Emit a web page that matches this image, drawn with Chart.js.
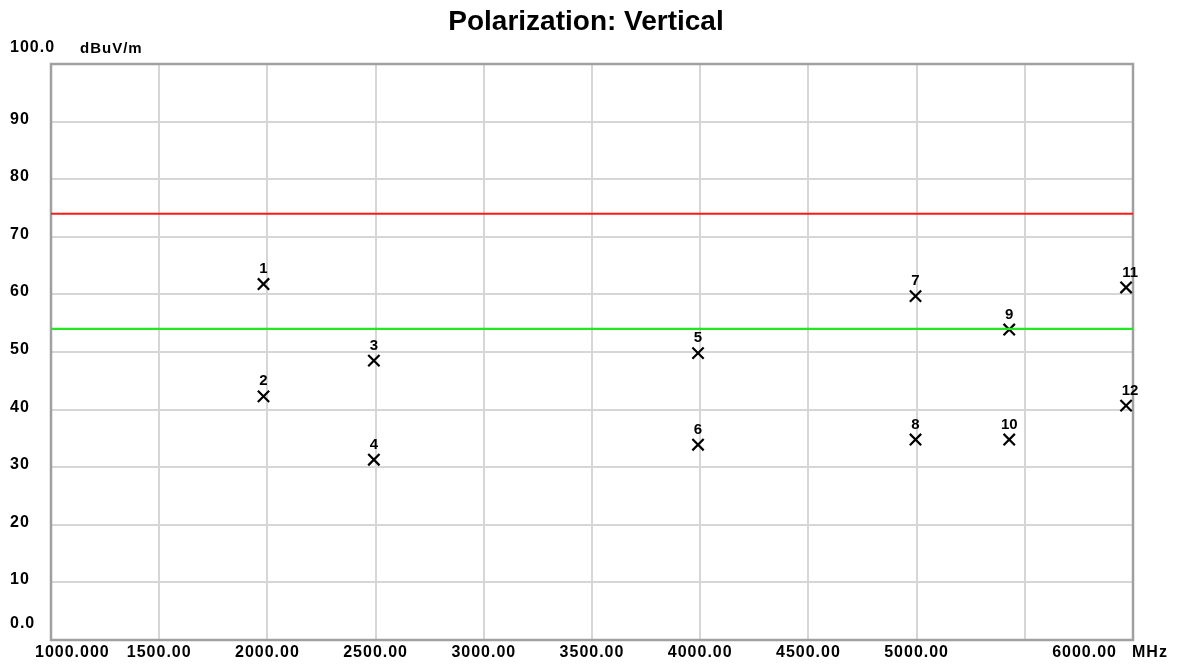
<!DOCTYPE html>
<html>
<head>
<meta charset="utf-8">
<script src="https://cdn.jsdelivr.net/npm/chart.js@4.4.1/dist/chart.umd.min.js"></script>
<style>
  html, body { margin: 0; padding: 0; background: #ffffff; }
  #wrap { width: 1177px; height: 666px; position: relative; }
</style>
</head>
<body>
<div id="wrap"><canvas id="c" width="1177" height="666"></canvas></div>
<script>
// ---- data ----
const chartTitle = 'Polarization: Vertical';
const yUnit = 'dBuV/m';
const xUnit = 'MHz';
const markerLabels = ['1','2','3','4','5','6','7','8','9','10','11','12'];
const markerFreq = [1982, 1982, 2492, 2492, 3990, 3990, 4995, 4995, 5428, 5428, 5968, 5968];
const markerLevel = [61.8, 42.3, 48.5, 31.3, 49.8, 33.9, 59.7, 34.8, 53.9, 34.8, 61.2, 40.7];
const peakLimit = 74;
const avgLimit = 54;
const xRange = [1000, 6000];
const yRange = [0, 100];
const xTickValues = [1000,1500,2000,2500,3000,3500,4000,4500,5000,5500,6000];
const xTickLabels = ['1000.000','1500.00','2000.00','2500.00','3000.00','3500.00','4000.00','4500.00','5000.00','','6000.00'];
const yTickValues = [0,10,20,30,40,50,60,70,80,90,100];
const yTickLabels = ['0.0','10','20','30','40','50','60','70','80','90','100.0'];

const FONT = '"Liberation Sans", Arial, sans-serif';

const textPlugin = {
  id: 'textPlugin',
  beforeDatasetsDraw(chart) {
    const {ctx, chartArea: a} = chart;
    ctx.save();
    ctx.strokeStyle = '#a0a0a0';
    ctx.lineWidth = 2.5;
    ctx.strokeRect(a.left, a.top, a.right - a.left, a.bottom - a.top);
    ctx.restore();
  },
  afterDraw(chart) {
    const {ctx, chartArea: a, scales} = chart;
    const xs = scales.x, ys = scales.y;
    ctx.save();
    ctx.fillStyle = '#000';
    // title
    ctx.font = 'bold 28px ' + FONT;
    ctx.textAlign = 'center';
    ctx.textBaseline = 'middle';
    ctx.fillText(chartTitle, 586, 22);

    ctx.letterSpacing = '1px';
    // y tick labels
    ctx.font = 'bold 16px ' + FONT;
    ctx.textAlign = 'left';
    yTickValues.forEach((v, i) => {
      let y = ys.getPixelForValue(v) - 2.5;
      if (v === yRange[0] || v === yRange[1]) y = ys.getPixelForValue(v) - 16;
      ctx.fillText(yTickLabels[i], 10, y);
    });
    // y unit
    ctx.font = 'bold 15px ' + FONT;
    ctx.fillText(yUnit, 80, ys.getPixelForValue(yRange[1]) - 15);

    // x tick labels
    ctx.font = 'bold 16px ' + FONT;
    const ly = a.bottom + 13;
    xTickValues.forEach((v, i) => {
      const t = xTickLabels[i];
      if (!t) return;
      const px = xs.getPixelForValue(v);
      if (i === 0) { ctx.textAlign = 'left'; ctx.fillText(t, px - 16, ly); }
      else if (i === xTickValues.length - 1) { ctx.textAlign = 'right'; ctx.fillText(t, px - 16, ly); }
      else { ctx.textAlign = 'center'; ctx.fillText(t, px, ly); }
    });
    ctx.textAlign = 'left';
    ctx.fillText(xUnit, a.right - 1, ly);

    // marker labels
    ctx.letterSpacing = '0px';
    ctx.font = 'bold 15px ' + FONT;
    ctx.textAlign = 'center';
    const meta = chart.getDatasetMeta(2);
    meta.data.forEach((pt, i) => {
      let x = pt.x;
      if (x > a.right - 12) x += 4;
      ctx.fillText(markerLabels[i], x, pt.y - 15);
    });
    ctx.restore();
  }
};

new Chart(document.getElementById('c'), {
  type: 'scatter',
  data: {
    datasets: [
      {
        type: 'line',
        data: [{x: xRange[0], y: peakLimit}, {x: xRange[1], y: peakLimit}],
        borderColor: '#ff1a1a', borderWidth: 2.2, pointRadius: 0, fill: false
      },
      {
        type: 'line',
        data: [{x: xRange[0], y: avgLimit}, {x: xRange[1], y: avgLimit}],
        borderColor: '#22e622', borderWidth: 2.2, pointRadius: 0, fill: false
      },
      {
        data: markerFreq.map((f, i) => ({x: f, y: markerLevel[i]})),
        pointStyle: 'crossRot', pointRadius: 8, pointBorderWidth: 2.2,
        borderColor: '#000', backgroundColor: '#000', clip: false
      }
    ]
  },
  options: {
    responsive: false,
    animation: false,
    devicePixelRatio: 1,
    layout: { autoPadding: false, padding: { left: 51, right: 44, top: 64, bottom: 26 } },
    plugins: { legend: { display: false }, tooltip: { enabled: false }, title: { display: false } },
    scales: {
      x: {
        type: 'linear', min: xRange[0], max: xRange[1],
        afterBuildTicks: (s) => { s.ticks = xTickValues.map(v => ({value: v})); },
        ticks: { display: false },
        grid: { color: '#d6d6d6', lineWidth: 2, drawTicks: false },
        border: { display: false }
      },
      y: {
        type: 'linear', min: yRange[0], max: yRange[1],
        afterBuildTicks: (s) => { s.ticks = yTickValues.map(v => ({value: v})); },
        ticks: { display: false },
        grid: { color: '#d6d6d6', lineWidth: 2, drawTicks: false },
        border: { display: false }
      }
    }
  },
  plugins: [textPlugin]
});
</script>
</body>
</html>
